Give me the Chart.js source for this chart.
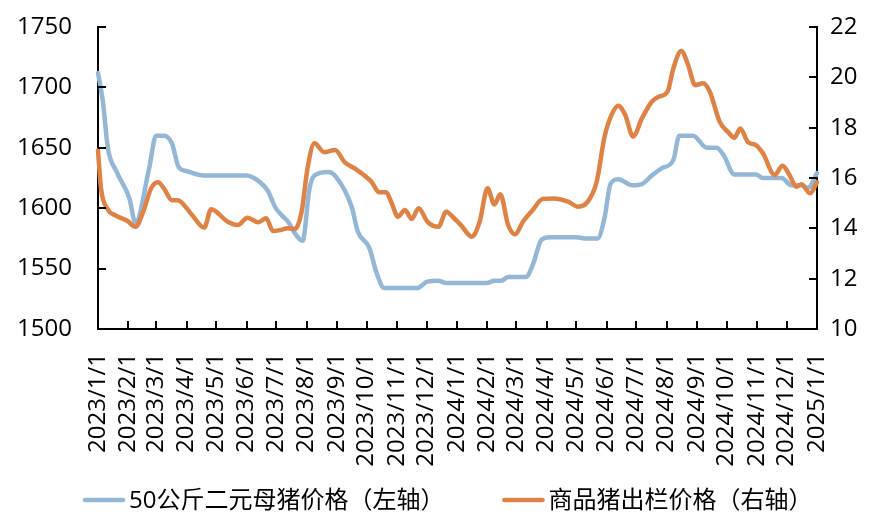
<!DOCTYPE html>
<html>
<head>
<meta charset="utf-8">
<script src="https://cdn.jsdelivr.net/npm/chart.js@4.4.1/dist/chart.umd.min.js"></script>
<style>
  html, body { margin: 0; padding: 0; background: #fff; }
  #wrap { width: 887px; height: 532px; }
</style>
</head>
<body>
<div id="wrap"><canvas id="c" width="887" height="532"></canvas></div>
<script>
// 月度刻度
const tickLabels = ['2023/1/1','2023/2/1','2023/3/1','2023/4/1','2023/5/1','2023/6/1','2023/7/1',
  '2023/8/1','2023/9/1','2023/10/1','2023/11/1','2023/12/1','2024/1/1','2024/2/1','2024/3/1',
  '2024/4/1','2024/5/1','2024/6/1','2024/7/1','2024/8/1','2024/9/1','2024/10/1','2024/11/1',
  '2024/12/1','2025/1/1'];

// 50公斤二元母猪价格（元/头，左轴）
const sowDates = ['2023-01-01','2023-01-06','2023-01-11','2023-01-20','2023-02-02','2023-02-08',
  '2023-02-22','2023-03-01','2023-03-09','2023-03-17','2023-03-24','2023-03-31','2023-04-19',
  '2023-05-15','2023-06-01','2023-06-14','2023-06-23','2023-06-30','2023-07-07','2023-07-14',
  '2023-07-18','2023-07-28','2023-08-04','2023-08-09','2023-08-23','2023-08-31','2023-09-16',
  '2023-09-22','2023-10-04','2023-10-11','2023-10-19','2023-11-22','2023-12-01','2023-12-13',
  '2023-12-21','2024-01-31','2024-02-08','2024-02-15','2024-02-22','2024-03-11','2024-03-18',
  '2024-03-27','2024-04-04','2024-05-01','2024-05-10','2024-05-23','2024-05-30','2024-06-05',
  '2024-06-13','2024-06-27','2024-07-07','2024-07-17','2024-07-27','2024-08-08','2024-08-14',
  '2024-08-28','2024-09-11','2024-09-21','2024-09-28','2024-10-09','2024-10-31','2024-11-07',
  '2024-11-26','2024-12-06','2024-12-16','2024-12-23','2025-01-01'];
const sowPrice = [1712,1688,1650,1630,1608,1588,
  1633,1660,1660,1654,1634,1631,1627,
  1627,1627,1622,1614,1601,1594,1588,
  1582,1573,1616,1627,1630,1626,1601,
  1581,1567,1547,1534,1534,1539,1540,
  1538,1538,1540,1540,1543,1543,1553,
  1574,1576,1576,1575,1575,1592,1620,
  1624,1619,1620,1627,1633,1640,1660,
  1660,1650,1650,1644,1628,1628,1625,
  1625,1619,1619,1617,1629];

// 商品猪出栏价格（元/公斤，右轴）
const hogDates = ['2023-01-01','2023-01-04','2023-01-11','2023-01-18','2023-01-31','2023-02-08',
  '2023-02-16','2023-02-24','2023-03-03','2023-03-09','2023-03-17','2023-03-23','2023-04-06',
  '2023-04-19','2023-04-26','2023-05-13','2023-05-23','2023-06-02','2023-06-13','2023-06-21',
  '2023-06-28','2023-07-05','2023-07-13','2023-07-20','2023-07-27','2023-08-02','2023-08-09',
  '2023-08-19','2023-08-30','2023-09-09','2023-09-19','2023-10-06','2023-10-14','2023-10-21',
  '2023-10-26','2023-11-02','2023-11-09','2023-11-16','2023-11-23','2023-12-02','2023-12-13',
  '2023-12-21','2023-12-29','2024-01-05','2024-01-16','2024-01-24','2024-02-01','2024-02-08',
  '2024-02-14','2024-02-22','2024-02-29','2024-03-08','2024-03-18','2024-03-28','2024-04-08',
  '2024-04-23','2024-05-03','2024-05-13','2024-05-22','2024-05-30','2024-06-06','2024-06-13',
  '2024-06-20','2024-06-28','2024-07-07','2024-07-17','2024-07-24','2024-08-02','2024-08-08',
  '2024-08-16','2024-08-23','2024-08-30','2024-09-07','2024-09-14','2024-09-24','2024-10-03',
  '2024-10-09','2024-10-15','2024-10-23','2024-10-31','2024-11-07','2024-11-19','2024-11-27',
  '2024-12-04','2024-12-11','2024-12-16','2024-12-25','2025-01-01'];
const hogPrice = [17.1,15.6,14.75,14.53,14.29,14.06,
  14.66,15.59,15.83,15.59,15.12,15.12,14.56,
  14.03,14.76,14.26,14.13,14.42,14.24,14.4,
  13.89,13.93,14.0,13.97,14.66,16.38,17.38,
  17.02,17.11,16.62,16.38,15.85,15.43,15.43,
  15.06,14.46,14.73,14.37,14.8,14.26,14.06,
  14.66,14.4,14.13,13.67,14.26,15.59,14.95,
  15.35,14.13,13.76,14.26,14.73,15.17,15.19,
  15.06,14.86,15.06,15.85,17.64,18.5,18.87,
  18.5,17.65,18.37,19.03,19.23,19.43,20.36,
  21.05,20.49,19.69,19.76,19.43,18.24,17.81,
  17.6,17.97,17.42,17.31,16.98,16.12,16.49,
  16.12,15.65,15.75,15.39,15.83];

const seriesNames = ['50公斤二元母猪价格（左轴）', '商品猪出栏价格（右轴）'];
const FONT = "'Open Sans', 'Noto Sans CJK SC', sans-serif";

const t0 = Date.UTC(2023, 0, 1);
function dayOf(s) {
  const p = s.split(/[-\/]/).map(Number);
  return (Date.UTC(p[0], p[1] - 1, p[2]) - t0) / 86400000;
}
const tickDays = tickLabels.map(dayOf);

// 固定坐标轴尺寸，去掉标签带来的额外内边距
function fixSize(w, h) {
  return s => {
    if (w) s.width = w;
    if (h) s.height = h;
    s.paddingTop = s.paddingBottom = s.paddingLeft = s.paddingRight = 0;
  };
}

// 刻度线朝内
const innerTicks = {
  id: 'innerTicks',
  afterDraw(chart) {
    const { ctx, chartArea: a, scales } = chart;
    ctx.save();
    ctx.strokeStyle = '#000';
    ctx.lineWidth = 2;
    ctx.beginPath();
    scales.x.ticks.forEach(t => {
      const px = Math.round(scales.x.getPixelForValue(t.value));
      ctx.moveTo(px, a.bottom);
      ctx.lineTo(px, a.bottom - 8);
    });
    scales.y.ticks.forEach(t => {
      const py = Math.round(scales.y.getPixelForValue(t.value));
      ctx.moveTo(a.left, py);
      ctx.lineTo(a.left + 8, py);
    });
    scales.y1.ticks.forEach(t => {
      const py = Math.round(scales.y1.getPixelForValue(t.value));
      ctx.moveTo(a.right, py);
      ctx.lineTo(a.right - 8, py);
    });
    ctx.stroke();
    ctx.restore();
  }
};

// 底部图例：短线 + 文字
const bottomLegend = {
  id: 'bottomLegend',
  afterDraw(chart) {
    const { ctx } = chart;
    const y = 500, lineW = 42, gap = 4, itemGap = 58;
    ctx.save();
    ctx.font = '24px ' + FONT;
    ctx.textBaseline = 'middle';
    ctx.fillStyle = '#000';
    let x = 83;
    chart.data.datasets.forEach(ds => {
      ctx.strokeStyle = ds.borderColor;
      ctx.lineWidth = 4.7;
      ctx.lineCap = 'round';
      ctx.beginPath();
      ctx.moveTo(x + 2, y);
      ctx.lineTo(x + lineW - 2, y);
      ctx.stroke();
      ctx.fillText(ds.label, x + lineW + gap, y + 1);
      x += lineW + gap + ctx.measureText(ds.label).width + itemGap;
    });
    ctx.restore();
  }
};

Chart.defaults.font.family = FONT;
Chart.defaults.font.size = 24;
Chart.defaults.color = '#000';

new Chart(document.getElementById('c'), {
  type: 'line',
  data: {
    datasets: [{
      label: seriesNames[0],
      data: sowDates.map((d, i) => ({ x: dayOf(d), y: sowPrice[i] })),
      yAxisID: 'y',
      borderColor: '#94b7d6',
      backgroundColor: '#94b7d6',
      borderWidth: 4.5,
      pointRadius: 0,
      cubicInterpolationMode: 'monotone',
      borderCapStyle: 'round',
      borderJoinStyle: 'round',
      clip: false,
      order: 1
    }, {
      label: seriesNames[1],
      data: hogDates.map((d, i) => ({ x: dayOf(d), y: hogPrice[i] })),
      yAxisID: 'y1',
      borderColor: '#df8246',
      backgroundColor: '#df8246',
      borderWidth: 4.5,
      pointRadius: 0,
      cubicInterpolationMode: 'monotone',
      borderCapStyle: 'round',
      borderJoinStyle: 'round',
      clip: false,
      order: 0
    }]
  },
  options: {
    responsive: false,
    animation: false,
    events: [],
    layout: { padding: { top: 27, left: 0, right: 0, bottom: 62 } },
    scales: {
      x: {
        type: 'linear',
        min: 0,
        max: tickDays[tickDays.length - 1],
        grid: { display: false, drawTicks: false },
        border: { display: true, color: '#000', width: 2 },
        afterBuildTicks: s => { s.ticks = tickDays.map(v => ({ value: v })); },
        afterFit: fixSize(0, 141),
        ticks: {
          autoSkip: false,
          minRotation: 90,
          maxRotation: 90,
          padding: 24,
          callback: (v, i) => tickLabels[i]
        }
      },
      y: {
        position: 'left',
        min: 1500,
        max: 1750,
        grid: { display: false, drawTicks: false },
        border: { display: true, color: '#000', width: 2 },
        afterFit: fixSize(98, 0),
        ticks: { stepSize: 50, padding: 26, callback: v => String(v) }
      },
      y1: {
        position: 'right',
        min: 10,
        max: 22,
        grid: { display: false, drawTicks: false },
        border: { display: true, color: '#000', width: 2 },
        afterFit: fixSize(70, 0),
        ticks: { stepSize: 2, padding: 13, callback: v => String(v) }
      }
    },
    plugins: {
      tooltip: { enabled: false },
      legend: { display: false }
    }
  },
  plugins: [innerTicks, bottomLegend]
});
</script>
</body>
</html>
